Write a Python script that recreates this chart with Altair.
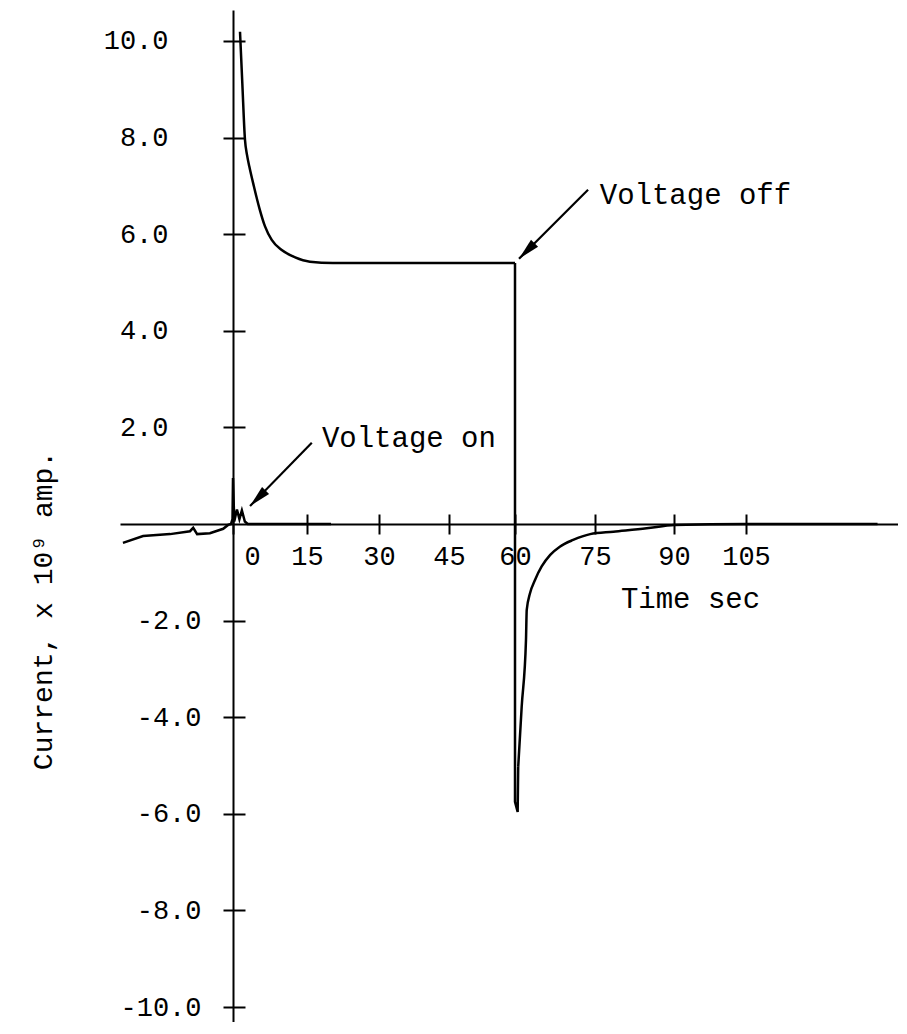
import altair as alt
import pandas as pd

# ---- data ----
# trace before / at switching the voltage on
pre_t = [-22.4, -18.3, -12.8, -8.75, -8.1, -7.3, -4.7, -2.0, -1.0, -0.4, -0.1, 0.0, 0.25, 0.8, 1.3, 1.8, 2.4, 3.0, 20.0]
pre_v = [-0.39, -0.25, -0.21, -0.15, -0.08, -0.21, -0.19, -0.10, -0.02, 0.0, 0.1, 0.95, 0.05, 0.30, 0.10, 0.28, 0.05, 0.0, 0.0]

# charging decay after voltage on (smooth)
decay_t = [1.42, 1.89, 2.43, 2.84, 3.31, 4.26, 5.34, 6.49, 7.85, 9.88, 12.6, 15.6, 20.4, 40.0, 60.0]
decay_v = [10.19, 9.12, 7.95, 7.64, 7.40, 6.98, 6.54, 6.16, 5.88, 5.67, 5.52, 5.43, 5.40, 5.40, 5.40]

# voltage off: vertical drop to the negative peak
drop_t = [60.0, 60.0, 60.5, 60.6]
drop_v = [5.40, -5.75, -5.96, -5.03]

# discharge recovery (smooth)
recov_t = [60.6, 61.25, 62.06, 62.2, 62.8, 63.75, 65.0, 66.6, 68.4, 70.9,
           74.1, 78.5, 84.8, 90.1, 105.0, 132.0]
recov_v = [-5.03, -3.79, -2.40, -1.78, -1.44, -1.16, -0.88, -0.64, -0.47, -0.33,
           -0.21, -0.16, -0.09, -0.02, 0.0, 0.0]

x_ticks = [0, 15, 30, 45, 60, 75, 90, 105]
y_ticks = [10, 8, 6, 4, 2, -2, -4, -6, -8, -10]

ann_text = ["Voltage on", "Voltage off"]
ann_text_t = [18.1, 75.9]
ann_text_v = [1.78, 6.81]
arrow_tail_t = [16.0, 73.7]
arrow_tail_v = [1.68, 6.92]
arrow_tip_t = [3.45, 60.75]
arrow_tip_v = [0.37, 5.49]

# ---- tables ----
def seg_table(ts, vs, name):
    return pd.DataFrame({"t": ts, "v": vs, "seg": name, "i": list(range(len(ts)))})

sharp = pd.concat([seg_table(pre_t, pre_v, "pre"), seg_table(drop_t, drop_v, "drop")],
                  ignore_index=True)
smooth = pd.concat([seg_table(decay_t, decay_v, "decay"), seg_table(recov_t, recov_v, "recov")],
                   ignore_index=True)

ann = pd.DataFrame({
    "label": ann_text, "t": ann_text_t, "v": ann_text_v,
    "t0": arrow_tail_t, "v0": arrow_tail_v, "t1": arrow_tip_t, "v1": arrow_tip_v,
})

FONT = "Liberation Mono"
WEIGHT = "normal"

# hand-drawn tick spacing of the original is slightly uneven -> piecewise linear scale
x_scale = alt.Scale(domain=[-23, 0, 15, 30, 45, 60, 75, 90, 105, 136.2],
                    range=[0, 113, 187, 259, 329, 395, 475, 554, 626, 778],
                    nice=False, zero=False)
y_scale = alt.Scale(domain=[-10.31, 10.64], nice=False, zero=False)

common_axis = dict(grid=False, tickColor="black", tickWidth=2, domainColor="black",
                   domainWidth=2, labelColor="black", labelFont=FONT, labelFontWeight=WEIGHT)

x_axis_bottom = alt.Axis(
    values=x_ticks, orient="bottom", offset=-498, tickSize=10,
    labelFontSize=27, labelPadding=9, labelFlush=False, labelOverlap=False, format="d",
    labelOffset={"condition": {"test": "datum.value == 0", "value": 19}, "value": 0},
    title="Time sec", titleFont=FONT, titleFontSize=29, titleFontWeight=WEIGHT,
    titleColor="black", titleX=570, titleY=74, titleAlign="center", titleBaseline="middle",
    **common_axis)

y_axis_left = alt.Axis(
    values=y_ticks, orient="left", offset=-113, tickSize=10,
    labelFontSize=27, labelFlush=False, labelOverlap=False,
    labelExpr="datum.value < 0 ? '-' + format(-datum.value, '.1f') : format(datum.value, '.1f')",
    labelPadding={"condition": {"test": "datum.value > 0", "value": 55}, "value": 22},
    title="Current, x 10⁹ amp.", titleFont=FONT, titleFontSize=28, titleFontWeight=WEIGHT,
    titleColor="black", titleX=-190, titleY=600, titleAlign="center", titleBaseline="middle",
    **common_axis)

x_axis_top = alt.Axis(values=x_ticks, orient="top", offset=-514, tickSize=10,
                      labels=False, domain=False, title="", grid=False,
                      tickColor="black", tickWidth=2)
y_axis_right = alt.Axis(values=y_ticks, orient="right", offset=-665, tickSize=12,
                        labels=False, domain=False, title="", grid=False,
                        tickColor="black", tickWidth=2)

line_sharp = alt.Chart(sharp).mark_line(color="black", strokeWidth=2.5).encode(
    x=alt.X("t:Q", scale=x_scale, axis=x_axis_bottom),
    y=alt.Y("v:Q", scale=y_scale, axis=y_axis_left),
    detail="seg:N",
    order="i:Q",
)

line_smooth = alt.Chart(smooth).mark_line(color="black", strokeWidth=2.5,
                                          interpolate="monotone").encode(
    x=alt.X("t:Q", scale=x_scale, axis=None),
    y=alt.Y("v:Q", scale=y_scale, axis=None),
    detail="seg:N",
    order="i:Q",
)

text = alt.Chart(ann).mark_text(align="left", baseline="middle", font=FONT,
                                fontSize=29, fontWeight=WEIGHT, color="black").encode(
    x=alt.X("t:Q", scale=x_scale, axis=x_axis_top),
    y=alt.Y("v:Q", scale=y_scale, axis=y_axis_right),
    text="label:N",
)

shaft = alt.Chart(ann).mark_rule(color="black", strokeWidth=2.2).encode(
    x=alt.X("t0:Q", scale=x_scale, axis=None),
    y=alt.Y("v0:Q", scale=y_scale, axis=None),
    x2="t1:Q", y2="v1:Q",
)

head = alt.Chart(ann).mark_point(shape="M0,0L-0.5,2.2L0.5,2.2Z", size=400, filled=True,
                                 opacity=1, color="black", angle=225).encode(
    x=alt.X("t1:Q", scale=x_scale, axis=None),
    y=alt.Y("v1:Q", scale=y_scale, axis=None),
)

chart = alt.layer(line_sharp, line_smooth, text, shaft, head).resolve_axis(
    x="independent", y="independent"
).properties(
    width=778, height=1012,
    autosize=alt.AutoSizeParams(type="none"),
    padding={"left": 112, "top": 2, "right": 0, "bottom": 0},
    background="white",
).configure_view(strokeWidth=0)

chart.save("out.html", embed_options={"renderer": "svg", "actions": False})
